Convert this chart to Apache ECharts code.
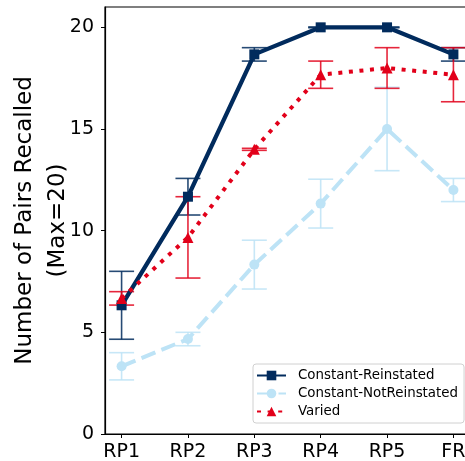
<!DOCTYPE html>
<html><head><meta charset="utf-8">
<script src="https://cdn.jsdelivr.net/npm/echarts@6/dist/echarts.min.js"></script>
<style>html,body{margin:0;padding:0;background:#fff}#c{width:465px;height:461px}</style>
</head><body><div id="c"></div>
<script>
var categories = ['RP1','RP2','RP3','RP4','RP5','FR'];
var yTicks = [0,5,10,15,20];
var crMean = [6.33, 11.67, 18.67, 20, 20, 18.67];
var crErr  = [1.67, 0.9, 0.33, 0.02, 0.02, 0.33];
var cnrMean = [3.33, 4.67, 8.33, 11.33, 15, 12];
var cnrErr  = [0.67, 0.33, 1.2, 1.2, 2.05, 0.57];
var varMean = [6.67, 9.67, 14, 17.67, 18, 17.67];
var varErr  = [0.33, 2.0, 0.05, 0.67, 1.0, 1.33];

var NAVY = '#012b5d', LBLUE = '#bde3f6', RED = '#e2001a';
var FONT = 'DejaVu Sans';

function pts(m){ return m.map(function(v,i){ return [i, v]; }); }
function errs(m,e){ return m.map(function(v,i){ return [i, v - e[i], v + e[i]]; }); }
function errRender(color){
  return function(params, api){
    var x = api.value(0), lo = api.value(1), hi = api.value(2);
    var a = api.coord([x, lo]), b = api.coord([x, hi]);
    var hw = 12.5, st = {stroke: color, lineWidth: 1.6, opacity: 0.85};
    return {type:'group', children:[
      {type:'line', shape:{x1:a[0],y1:a[1],x2:b[0],y2:b[1]}, style:st},
      {type:'line', shape:{x1:a[0]-hw,y1:a[1],x2:a[0]+hw,y2:a[1]}, style:st},
      {type:'line', shape:{x1:b[0]-hw,y1:b[1],x2:b[0]+hw,y2:b[1]}, style:st}
    ]};
  };
}

var chart = echarts.init(document.getElementById('c'), null, {renderer:'canvas'});
chart.setOption({
  animation: false,
  textStyle: {fontFamily: FONT, color: '#000'},
  grid: {left: 105, top: 7, width: 365, height: 427, containLabel: false, outerBoundsMode: 'none',
    show: true, borderColor: '#000', borderWidth: 1.2, backgroundColor: 'transparent'},
  xAxis: {
    type: 'value', min: -0.25, max: 5.25,
    axisLine: {onZero:false, lineStyle: {color: '#000', width: 1.2}},
    axisTick: {show: true, customValues: [0,1,2,3,4,5], length: 4, lineStyle: {color:'#000'}},
    axisLabel: {customValues: [0,1,2,3,4,5], formatter: function(v){ return categories[Math.round(v)]; }, fontSize: 19, color: '#000', fontFamily: FONT, margin: 9},
    splitLine: {show: false}
  },
  yAxis: {
    type: 'value', min: 0, max: 21,
    name: 'Number of Pairs Recalled\n(Max=20)', nameLocation: 'middle', nameGap: 30, nameRotate: 90,
    nameMoveOverlap: false,
    nameTextStyle: {fontSize: 23, color: '#000', fontFamily: FONT, lineHeight: 33},
    axisLine: {show: true, onZero: false, lineStyle: {color: '#000', width: 1.2}},
    axisTick: {show: true, customValues: yTicks, length: 4, lineStyle: {color:'#000'}},
    axisLabel: {customValues: yTicks, fontSize: 19, color: '#000', fontFamily: FONT, margin: 11},
    splitLine: {show: false}
  },
  legend: {
    orient: 'vertical', left: 253, top: 364, padding: [5, 6, 5, 3], itemGap: 5,
    itemWidth: 29, itemHeight: 12,
    borderColor: '#d0d0d0', borderWidth: 1, borderRadius: 3, backgroundColor: '#fff',
    textStyle: {fontSize: 13.4, color: '#000', fontFamily: FONT, padding: [0, 0, 0, 7]},
    data: ['Constant-Reinstated', 'Constant-NotReinstated', 'Varied']
  },
  series: [
    {type:'custom', name:'crErr', renderItem: errRender(NAVY), data: errs(crMean, crErr), z: 2, silent: true},
    {type:'custom', name:'cnrErr', renderItem: errRender(LBLUE), data: errs(cnrMean, cnrErr), z: 2, silent: true},
    {type:'custom', name:'varErr', renderItem: errRender(RED), data: errs(varMean, varErr), z: 2, silent: true},
    {type:'line', name:'Constant-Reinstated', data: pts(crMean), color: NAVY,
      symbol:'rect', symbolSize: 10, lineStyle:{width: 4.3, color: NAVY}, itemStyle:{color: NAVY}, z: 3},
    {type:'line', name:'Constant-NotReinstated', data: pts(cnrMean), color: LBLUE,
      symbol:'circle', symbolSize: 10, lineStyle:{width: 4, color: LBLUE, type: [15, 6.5]}, itemStyle:{color: LBLUE}, z: 3},
    {type:'line', name:'Varied', data: pts(varMean), color: RED,
      symbol:'triangle', symbolSize: 11, lineStyle:{width: 4, color: RED, type: [4, 6.6]}, itemStyle:{color: RED}, z: 4}
  ]
});
</script></body></html>
